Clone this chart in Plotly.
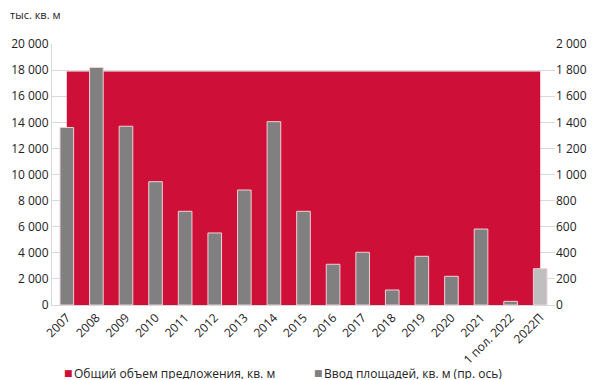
import plotly.graph_objects as go

categories = ["2007", "2008", "2009", "2010", "2011", "2012", "2013", "2014", "2015",
              "2016", "2017", "2018", "2019", "2020", "2021", "1 пол. 2022", "2022П"]
total_supply = [17870] * 17
new_supply = [1360, 1820, 1370, 945, 718, 552, 881, 1405, 718,
              312, 404, 115, 373, 220, 582, 28, 278]
bar_colors = ["#808080"] * 16 + ["#BFBFBF"]
series_names = ["Общий объем предложения, кв. м", "Ввод площадей, кв. м (пр. ось)"]

RED = "#CE1039"
GRAY = "#808080"
FONT = "Open Sans"
TXT = "#222222"

left_ticks = list(range(0, 20001, 2000))
right_ticks = list(range(0, 2001, 200))

def fmt(v):
    return f"{v:,}".replace(",", " ")

fig = go.Figure()
fig.add_trace(go.Scatter(
    x=categories, y=total_supply, mode="lines", fill="tozeroy",
    fillcolor=RED, line=dict(color=RED, width=0.5),
    name=series_names[0], showlegend=False, yaxis="y", hoverinfo="skip"))
fig.add_trace(go.Bar(
    x=categories, y=new_supply,
    marker=dict(color=bar_colors, line=dict(color="#F2D0D6", width=1)),
    width=0.46, name=series_names[1], showlegend=False, yaxis="y2"))

# legend built from annotations (compact Excel-like legend)
legend_ann = []
for name, col, xs in [(series_names[0], RED, 11), (series_names[1], GRAY, 261)]:
    legend_ann.append(dict(text="■", x=0, y=0, xref="paper", yref="paper",
                           xshift=xs, yshift=-68, xanchor="left", yanchor="middle",
                           height=12, borderpad=0,
                           showarrow=False, font=dict(family="DejaVu Sans", size=9, color=col)))
    legend_ann.append(dict(text=name, x=0, y=0, xref="paper", yref="paper",
                           xshift=xs + 10, yshift=-68, xanchor="left", yanchor="middle",
                           height=12, borderpad=0,
                           showarrow=False, font=dict(size=12, color=TXT)))

fig.update_layout(
    width=592, height=372,
    margin=dict(l=44, r=45, t=36, b=75, autoexpand=False),
    paper_bgcolor="white", plot_bgcolor="white",
    font=dict(family=FONT, size=12, color=TXT),
    barmode="overlay",
    showlegend=False,
    xaxis=dict(type="category", range=[-0.5, 16.5], tickangle=-45,
               showgrid=False, showline=True, linecolor="#D9D9D9", linewidth=1,
               ticks="", tickfont=dict(size=12), automargin=False),
    yaxis=dict(range=[0, 20000], tickvals=left_ticks, ticktext=[fmt(v) for v in left_ticks],
               showgrid=True, gridcolor="#D9D9D9", gridwidth=1, zeroline=False,
               showline=True, linecolor="#D9D9D9", ticks="", tickfont=dict(size=12),
               automargin=False),
    yaxis2=dict(range=[0, 2000], overlaying="y", side="right",
                tickvals=right_ticks, ticktext=[fmt(v) for v in right_ticks],
                showgrid=False, zeroline=False, showline=False, ticks="",
                tickfont=dict(size=12), automargin=False),
    annotations=[dict(text="тыс. кв. м", x=0, y=1, xref="paper", yref="paper",
                      xshift=-43, yshift=30, xanchor="left", yanchor="middle",
                      height=10, borderpad=0,
                      showarrow=False, font=dict(size=11, color=TXT))] + legend_ann,
)

fig.write_html("out.html")
